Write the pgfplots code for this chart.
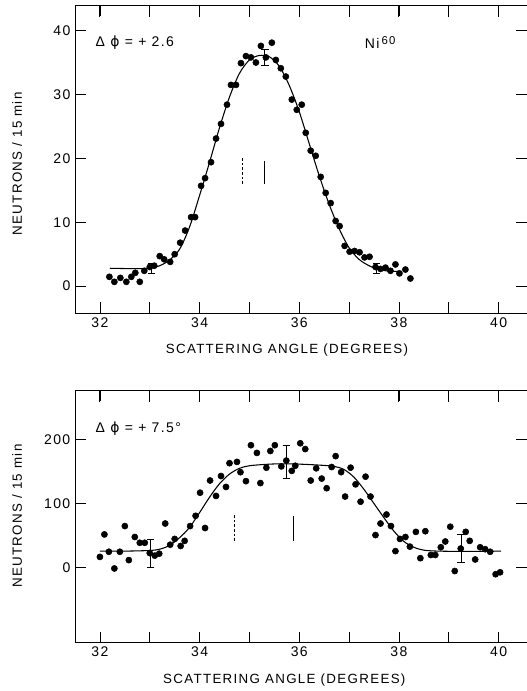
\documentclass[border=0pt]{standalone}
\usepackage{fontspec}
\setmainfont{Liberation Sans}[LetterSpace=10]
\newfontfamily\phifont{DejaVu Sans}
\usepackage{pgfplots}
\pgfplotsset{compat=1.18}

\pgfplotsset{
  panel/.style={
    scale only axis,
    width=339pt,
    xmin=31.5, xmax=40.57,
    xtick={32,...,40},
    xticklabels={32,,34,,36,,38,,40},
    tick align=inside,
    major tick length=8pt,
    tick style={black, line width=0.6pt},
    axis line style={line width=0.7pt},
    clip=false,
    /pgf/number format/assume math mode=true,
    tick label style={font=\fontsize{10.5}{12}\selectfont},
    label style={font=\fontsize{10}{12}\selectfont},
    xlabel={SCATTERING ANGLE (DEGREES)},
    ylabel={NEUTRONS / 15 min},
  },
  pts/.style={only marks, mark=*, mark size=2.3pt, mark options={fill=black, draw=black}},
  fit/.style={black, line width=0.8pt, no marks},
  errs/.style={draw=none, mark=none, forget plot,
    error bars/.cd, y dir=both, y explicit,
    error bar style={black, line width=0.6pt},
    error mark options={black, rotate=90, mark size=2.8pt, line width=0.6pt}},
  % tick marks on top and right edges, drawn as short segments
  farticks/.style={black, line width=0.7pt, no marks, forget plot, unbounded coords=jump},
}

\begin{document}
\begin{tikzpicture}
\path[use as bounding box] (0,0) rectangle (395.25pt,-518.25pt);

% ---- top panel: delta phi = +2.6
\begin{axis}[panel,
  at={(56.25pt,-234.75pt)}, anchor=south west,
  height=231pt,
  ymin=-4.2, ymax=44,
  ytick={0,10,20,30,40},
  every axis x label/.style={at={(axis description cs:0.469,-0.12)}, anchor=center},
  every axis y label/.style={at={(axis description cs:-0.128,0.484)}, rotate=90, anchor=center},
]
\addplot[pts] coordinates {
 (32.19,1.46) (32.29,0.68) (32.41,1.3) (32.53,0.68) (32.63,1.46) (32.71,2.09)
 (32.80,0.68) (32.89,2.4) (33.00,3.0) (33.09,3.2) (33.20,4.7) (33.29,4.2)
 (33.41,3.8) (33.50,5.0) (33.61,6.8) (33.71,8.7) (33.83,10.8) (33.91,10.8)
 (34.03,15.7) (34.11,16.9) (34.23,19.4) (34.33,23.1) (34.43,25.4) (34.55,28.4)
 (34.63,31.5) (34.73,31.5) (34.83,34.9) (34.93,36.0) (35.03,35.8) (35.13,35.0)
 (35.23,37.6) (35.33,35.8) (35.45,38.1) (35.53,35.4) (35.63,34.1) (35.73,32.8)
 (35.85,29.2) (35.95,27.6) (36.05,28.4) (36.13,24.0) (36.23,21.2) (36.33,20.4)
 (36.43,17.1) (36.53,14.6) (36.63,13.0) (36.73,10.2) (36.81,9.4) (36.91,6.3)
 (37.01,5.4) (37.11,5.5) (37.21,5.3) (37.31,4.5) (37.41,4.6) (37.53,3.0)
 (37.63,2.7) (37.73,2.9) (37.83,2.4) (37.93,3.4) (38.01,2.0) (38.13,2.6)
 (38.23,1.2)
};
\addplot[fit, smooth] coordinates {
 (32.2,2.8) (32.6,2.75) (33.0,2.8) (33.2,3.2) (33.4,4.1) (33.6,5.8)
 (33.8,9.3) (34.0,14.2) (34.2,19.4) (34.4,24.8) (34.6,29.6) (34.8,33.3)
 (35.0,35.4) (35.2,36.1) (35.4,35.9) (35.6,34.4) (35.8,31.4) (36.0,27.3)
 (36.2,22.3) (36.4,17.3) (36.6,12.8) (36.8,9.0) (37.0,6.0) (37.2,4.2)
 (37.4,3.2) (37.6,2.6) (37.8,2.35) (38.0,2.3)
};
\addplot[errs] coordinates {
 (33.03,2.8) +- (0,0.8)
 (35.31,35.8) +- (0,1.3)
 (37.55,2.8) +- (0,0.75)
};
\addplot[black, line width=0.6pt, dash pattern=on 2pt off 1.5pt] coordinates {(34.85,16) (34.85,20)};
\addplot[black, line width=0.6pt] coordinates {(35.31,16) (35.31,19.6)};
\addplot[farticks] coordinates {
 (32,44) (32,42.1) (32,nan) (33,44) (33,42.1) (33,nan) (34,44) (34,42.1) (34,nan)
 (35,44) (35,42.1) (35,nan) (36,44) (36,42.1) (36,nan) (37,44) (37,42.1) (37,nan)
 (38,44) (38,42.1) (38,nan) (39,44) (39,42.1) (39,nan) (40,44) (40,42.1) (40,nan)
 (40.57,0) (40.36,0) (nan,0) (40.57,10) (40.36,10) (nan,10) (40.57,20) (40.36,20) (nan,20)
 (40.57,30) (40.36,30) (nan,30) (40.57,40) (40.36,40)
};
\node[anchor=west, font=\fontsize{10.5}{12}\selectfont] at (axis cs:31.82,38.1) {Δ {\phifont ϕ} = + 2.6};
\node[anchor=west, font=\fontsize{10.5}{12}\selectfont] at (axis cs:37.22,38.1) {Ni\,\raisebox{0.6ex}{\fontsize{8.5}{10}\selectfont 60}};
\end{axis}

% ---- bottom panel: delta phi = +7.5
\begin{axis}[panel,
  at={(56.25pt,-481.7pt)}, anchor=south west,
  height=189.2pt,
  ymin=-116, ymax=277,
  ytick={0,100,200},
  every axis x label/.style={at={(axis description cs:0.463,-0.151)}, anchor=center},
  every axis y label/.style={at={(axis description cs:-0.128,0.5)}, rotate=90, anchor=center},
]
\addplot[pts] coordinates {
 (32.00,17) (32.09,52) (32.18,25) (32.29,-1) (32.40,25) (32.50,65)
 (32.58,12) (32.70,48) (32.80,39) (32.90,39) (33.00,23) (33.10,19)
 (33.19,22) (33.31,69) (33.41,36) (33.50,45) (33.62,34) (33.70,42)
 (33.81,65) (33.92,81) (34.01,117) (34.11,62) (34.21,136) (34.33,112)
 (34.43,143) (34.53,126) (34.60,163) (34.75,165) (34.82,149) (34.93,135)
 (35.03,191) (35.15,179) (35.22,132) (35.34,156) (35.42,182) (35.51,191)
 (35.64,158) (35.74,167) (35.85,151) (35.92,159) (36.02,194) (36.12,185)
 (36.23,136) (36.34,155) (36.45,139) (36.55,124) (36.65,157) (36.73,174)
 (36.84,149) (36.92,111) (37.03,156) (37.13,130) (37.23,103) (37.33,142)
 (37.43,111) (37.53,51) (37.63,69) (37.75,83) (37.84,65) (37.93,26)
 (38.02,45) (38.13,48) (38.22,33) (38.34,56) (38.43,15) (38.53,57)
 (38.64,20) (38.73,20) (38.84,32) (38.93,41) (39.03,64) (39.12,-5)
 (39.24,30) (39.34,56) (39.42,42) (39.53,13) (39.63,32) (39.73,29)
 (39.83,25) (39.94,-10) (40.03,-7)
};
\addplot[fit, smooth] coordinates {
 (32.0,26) (32.5,26) (33.0,27) (33.2,29) (33.4,35) (33.6,47) (33.8,63)
 (34.0,86) (34.2,110) (34.4,131) (34.6,146) (34.8,155) (35.0,159)
 (35.3,161) (35.6,162) (36.0,161.5) (36.4,160) (36.7,158) (36.9,153)
 (37.1,141) (37.3,122) (37.5,100) (37.7,78) (37.9,57) (38.1,41)
 (38.3,32) (38.5,27.5) (38.8,26) (39.4,25.5) (40.05,26)
};
\addplot[errs] coordinates {
 (33.02,22.5) +- (0,22.5)
 (35.74,165) +- (0,25)
 (39.25,30.5) +- (0,21.5)
};
\addplot[black, line width=0.6pt, dash pattern=on 2pt off 1.5pt] coordinates {(34.70,42) (34.70,82)};
\addplot[black, line width=0.6pt] coordinates {(35.89,42) (35.89,80)};
\addplot[farticks] coordinates {
 (32,277) (32,258) (32,nan) (33,277) (33,258) (33,nan) (34,277) (34,258) (34,nan)
 (35,277) (35,258) (35,nan) (36,277) (36,258) (36,nan) (37,277) (37,258) (37,nan)
 (38,277) (38,258) (38,nan) (39,277) (39,258) (39,nan) (40,277) (40,258) (40,nan)
 (40.57,0) (40.36,0) (nan,0) (40.57,100) (40.36,100) (nan,100) (40.57,200) (40.36,200)
};
\node[anchor=west, font=\fontsize{10.5}{12}\selectfont] at (axis cs:31.82,217) {Δ {\phifont ϕ} = + 7.5°};
\end{axis}
\end{tikzpicture}
\end{document}
